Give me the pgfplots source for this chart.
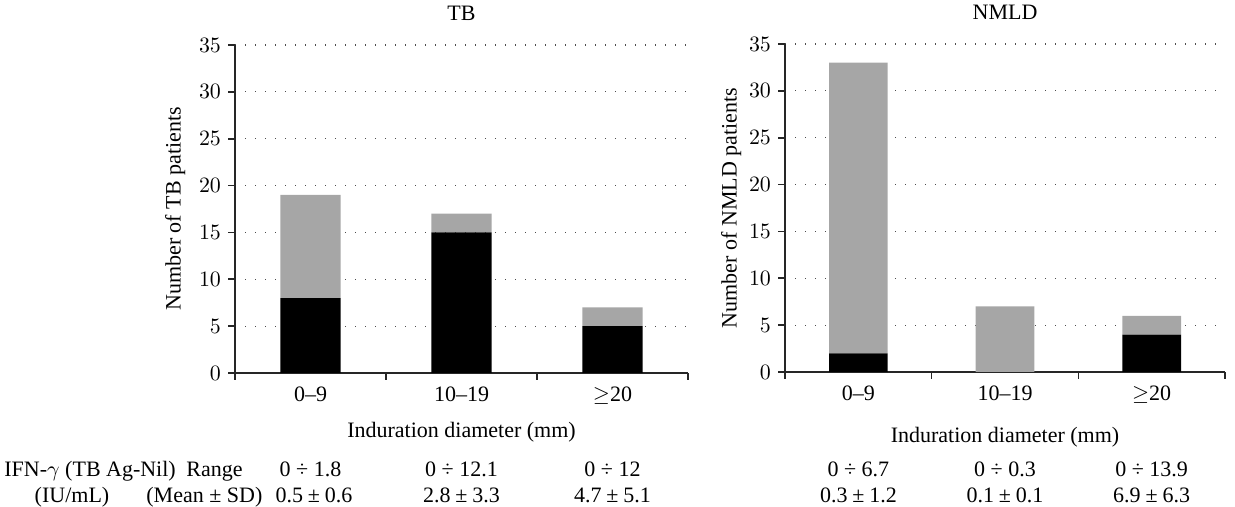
\documentclass[border=0pt]{standalone}
\usepackage{fontspec}
\setmainfont{Liberation Serif}
\usepackage{pgfplots}
\pgfplotsset{compat=1.18}
\definecolor{barg}{HTML}{A6A6A6}
\newcommand{\fs}{\fontsize{11}{13}\selectfont}
\newcommand{\pmv}[2]{#1\hspace{0.22em}±\hspace{0.22em}#2}
\pgfplotsset{panel/.style={
  scale only axis, height=164pt, anchor=south west,
  ymin=0, ymax=35, ytick={0,5,...,35},
  xmin=-0.5, xmax=2.5, xtick={0,1,2},
  xticklabels={0--9,10--19,{$\geq$20}},
  minor xtick={-0.5,0.5,1.5,2.5},
  major x tick style={draw=none},
  axis x line*=bottom, axis y line*=left,
  axis line style={-, line width=0.8pt, black!85},
  every tick/.style={line width=0.8pt, black!85},
  tick align=outside, major tick length=3.5pt, minor tick length=3.5pt,
  ymajorgrids, grid style={dash pattern=on 0.6pt off 4.4pt, line width=0.6pt, black!70},
  ybar stacked, bar width=0.4,
  tick label style={font=\fs},
  label style={font=\fs},
  title style={font=\fs, yshift=2.5pt},
  xlabel={Induration diameter (mm)},
  clip=false,
}}
\begin{document}
\begin{tikzpicture}
\useasboundingbox (0,0) rectangle (617.5pt,253.5pt);
\begin{axis}[panel, at={(117.5pt,67pt)}, width=226.5pt,
  title={TB}, ylabel={Number of TB patients},
  xlabel style={yshift=-2pt}]
\addplot[fill=black, draw=none] coordinates {(0,8) (1,15) (2,5)};
\addplot[fill=barg, draw=none] coordinates {(0,11) (1,2) (2,2)};
\end{axis}
\begin{axis}[panel, at={(392.5pt,67.5pt)}, width=220pt,
  title={NMLD}, ylabel={Number of NMLD patients},
  xlabel style={yshift=-5pt}, ylabel style={yshift=-3pt}]
\addplot[fill=black, draw=none] coordinates {(0,2) (1,0) (2,4)};
\addplot[fill=barg, draw=none] coordinates {(0,31) (1,7) (2,2)};
\end{axis}
\begin{scope}[every node/.style={font=\fs, inner sep=0pt}]
\node[anchor=base west] at (2pt,15pt) {IFN-$\gamma$ (TB Ag-Nil)};
\node[anchor=base west] at (93pt,15pt) {Range};
\node[anchor=base] at (36pt,2pt) {(IU/mL)};
\node[anchor=base west] at (73pt,2pt) {(Mean ±\ SD)};
\node[anchor=base] at (155.25pt,15pt) {0 ÷ 1.8};
\node[anchor=base] at (230.75pt,15pt) {0 ÷ 12.1};
\node[anchor=base] at (306.25pt,15pt) {0 ÷ 12};
\node[anchor=base] at (157pt,2pt) {\pmv{0.5}{0.6}};
\node[anchor=base] at (230.75pt,2pt) {\pmv{2.8}{3.3}};
\node[anchor=base] at (306.25pt,2pt) {\pmv{4.7}{5.1}};
\node[anchor=base] at (429.2pt,15pt) {0 ÷ 6.7};
\node[anchor=base] at (502.5pt,15pt) {0 ÷ 0.3};
\node[anchor=base] at (575.8pt,15pt) {0 ÷ 13.9};
\node[anchor=base] at (429.2pt,2pt) {\pmv{0.3}{1.2}};
\node[anchor=base] at (502.5pt,2pt) {\pmv{0.1}{0.1}};
\node[anchor=base] at (575.8pt,2pt) {\pmv{6.9}{6.3}};
\end{scope}
\end{tikzpicture}
\end{document}
